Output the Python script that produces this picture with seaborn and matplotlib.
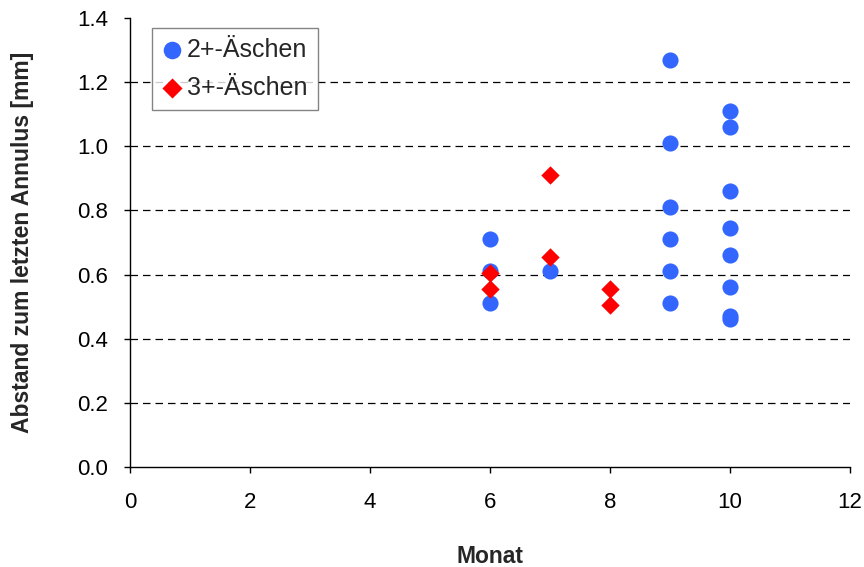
import matplotlib
matplotlib.use("Agg")
import matplotlib.pyplot as plt
import seaborn as sns
import pandas as pd

sns.set_style("white")
plt.rcParams['font.family'] = ['Liberation Sans', 'DejaVu Sans']

monat_2 = [6, 6, 6, 7, 9, 9, 9, 9, 9, 9, 10, 10, 10, 10, 10, 10, 10, 10]
abst_2 = [0.71, 0.61, 0.51, 0.61, 1.27, 1.01, 0.81, 0.71, 0.61, 0.51,
          1.11, 1.06, 0.86, 0.745, 0.66, 0.56, 0.47, 0.46]
monat_3 = [6, 6, 7, 7, 8, 8]
abst_3 = [0.605, 0.555, 0.91, 0.655, 0.555, 0.505]

df2 = pd.DataFrame({"Monat": monat_2, "Abstand": abst_2})
df3 = pd.DataFrame({"Monat": monat_3, "Abstand": abst_3})

fig = plt.figure(figsize=(8.64, 5.67), dpi=100)
ax = fig.add_axes([130/864, 1 - 467/567, 720/864, 449/567])

for y in [0.2, 0.4, 0.6, 0.8, 1.0, 1.2]:
    ax.axhline(y, color="black", linestyle=(0, (6, 4)), linewidth=0.9, zorder=0)

sns.scatterplot(data=df2, x="Monat", y="Abstand", marker="o", color="#3366FF",
                s=135, linewidth=0, ax=ax, zorder=3, label="2+-Äschen")
sns.scatterplot(data=df3, x="Monat", y="Abstand", marker="D", color="#FF0000",
                s=88, linewidth=0, ax=ax, zorder=4, label="3+-Äschen")

ax.set_xlim(0, 12)
ax.set_ylim(0, 1.4)
ax.set_xticks(range(0, 13, 2))
ax.set_yticks([i * 0.2 for i in range(8)])
ax.set_yticklabels([f"{i*0.2:.1f}" for i in range(8)])
ax.tick_params(axis="both", which="both", direction="out", length=4, width=1,
               labelsize=16, colors="black", bottom=True, left=True)
ax.tick_params(axis="y", pad=12)
ax.tick_params(axis="x", pad=14)
for s in ["top", "right"]:
    ax.spines[s].set_visible(False)
for s in ["left", "bottom"]:
    ax.spines[s].set_color("black")
    ax.spines[s].set_linewidth(1)

ax.set_xlabel("Monat", fontsize=16.5, fontweight="bold")
ax.set_ylabel("Abstand zum letzten Annulus [mm]", fontsize=16.5, fontweight="bold")
ax.xaxis.set_label_coords(0.5, (467 - 545) / 449)
ax.yaxis.set_label_coords((34 - 130) / 720, 0.5)

leg = ax.legend(loc="upper left", bbox_to_anchor=(22/720, 1 - 10/449), fontsize=18,
                frameon=True, fancybox=False, edgecolor="#666666",
                handletextpad=0.2, borderpad=0.4, labelspacing=0.55,
                borderaxespad=0, handlelength=0.8)
leg.get_frame().set_linewidth(1)
hs = leg.legend_handles
hs[0].set_sizes([160])
hs[1].set_sizes([105])

fig.savefig("out.png", dpi=100)
